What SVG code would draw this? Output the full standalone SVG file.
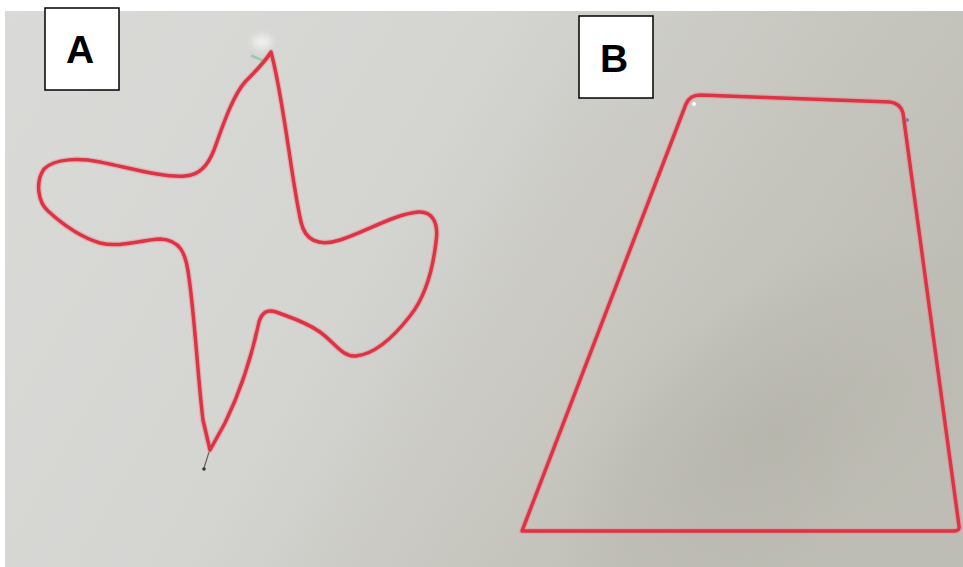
<svg xmlns="http://www.w3.org/2000/svg" width="963" height="567" viewBox="0 0 963 567">
  <defs>
    <linearGradient id="paper" gradientUnits="userSpaceOnUse" x1="0" y1="0" x2="963" y2="567">
      <stop offset="0" stop-color="#dadad8"/>
      <stop offset="0.4" stop-color="#d4d4d1"/>
      <stop offset="0.62" stop-color="#c6c5be"/>
      <stop offset="0.85" stop-color="#b5b3aa"/>
      <stop offset="1" stop-color="#b3b1a8"/>
    </linearGradient>
    <radialGradient id="shade" gradientUnits="userSpaceOnUse" cx="780" cy="430" r="260" gradientTransform="translate(780 430) rotate(-35) scale(1 0.55) translate(-780 -430)">
      <stop offset="0" stop-color="#9e9c92" stop-opacity="0.45"/>
      <stop offset="1" stop-color="#9e9c92" stop-opacity="0"/>
    </radialGradient>
    <linearGradient id="topglow" gradientUnits="userSpaceOnUse" x1="600" y1="11" x2="963" y2="120">
      <stop offset="0" stop-color="#d8d8d4" stop-opacity="0"/>
      <stop offset="1" stop-color="#d2d2cb" stop-opacity="0.35"/>
    </linearGradient>
    <filter id="soft" x="-5%" y="-5%" width="110%" height="110%">
      <feGaussianBlur stdDeviation="0.6"/>
    </filter>
    <filter id="blur3" x="-50%" y="-50%" width="200%" height="200%">
      <feGaussianBlur stdDeviation="3"/>
    </filter>
  </defs>
  <style>
    .glow { fill: none; stroke: #ee7d86; stroke-width: 6; stroke-opacity: 0.4; stroke-linejoin: round; stroke-linecap: round; }
    .thread { fill: none; stroke: #db3444; stroke-width: 3.5; stroke-linejoin: round; stroke-linecap: round; }
    .label-box { fill: #ffffff; stroke: #000000; stroke-width: 1.5; }
    .label { font-family: "Liberation Sans", Arial, sans-serif; font-weight: bold; font-size: 39px; fill: #000000; text-anchor: middle; }
  </style>

  <rect x="0" y="0" width="963" height="567" fill="#ffffff"/>
  <g id="photo">
    <rect x="5" y="11" width="958" height="556" fill="url(#paper)"/>
    <rect x="5" y="11" width="958" height="556" fill="url(#shade)"/>
    <rect x="5" y="11" width="958" height="556" fill="url(#topglow)"/>
    <ellipse cx="262" cy="42" rx="10" ry="7" fill="#f4f4f2" opacity="0.8" filter="url(#blur3)"/>
    <path d="M252 56 L262 60" stroke="#7fc79a" stroke-width="2.5" stroke-linecap="round" opacity="0.7"/>
    <path d="M209 452 L204 468" stroke="#6a5a5a" stroke-width="1.2"/>
    <circle cx="204" cy="469" r="1.8" fill="#3c3030"/>
    <circle cx="694" cy="104" r="2" fill="#ffffff"/>
    <circle cx="907" cy="120" r="2" fill="#7a7ab8"/>
  </g>

  <g id="shape-a" filter="url(#soft)">
    <path class="glow" d="M271 52 C284 100 291 178 301 222 C305 240 318 247 340 240 C365 232 395 214 418 212 C432 211 439 222 436 242 C433 268 426 296 410 316 C396 334 376 354 356 356 C342 357 334 342 320 332 C306 322 292 318 276 312 C268 309 262 312 259 322 C252 355 240 392 225 423 L210 450 L203 420 C198 380 195 320 189 278 C186 252 180 240 160 239 C140 240 120 248 100 243 C80 237 60 222 48 211 C38 202 35 182 44 169 C55 158 80 158 100 162 C130 168 165 178 185 176 C200 175 208 165 214 150 C222 128 232 97 245 82 C255 72 265 62 271 52 Z"/>
    <path class="thread" d="M271 52 C284 100 291 178 301 222 C305 240 318 247 340 240 C365 232 395 214 418 212 C432 211 439 222 436 242 C433 268 426 296 410 316 C396 334 376 354 356 356 C342 357 334 342 320 332 C306 322 292 318 276 312 C268 309 262 312 259 322 C252 355 240 392 225 423 L210 450 L203 420 C198 380 195 320 189 278 C186 252 180 240 160 239 C140 240 120 248 100 243 C80 237 60 222 48 211 C38 202 35 182 44 169 C55 158 80 158 100 162 C130 168 165 178 185 176 C200 175 208 165 214 150 C222 128 232 97 245 82 C255 72 265 62 271 52 Z"/>
  </g>

  <g id="shape-b" filter="url(#soft)">
    <path class="glow" d="M700 95 L890 102 Q900 103 903 113 L959 526 Q960 531 954 531 L522 531 L686 104 Q690 95 700 95 Z"/>
    <path class="thread" d="M700 95 L890 102 Q900 103 903 113 L959 526 Q960 531 954 531 L522 531 L686 104 Q690 95 700 95 Z"/>
  </g>

  <g id="label-a">
    <rect class="label-box" x="45" y="8" width="74" height="82"/>
    <text class="label" x="80" y="63">A</text>
  </g>
  <g id="label-b">
    <rect class="label-box" x="579" y="16" width="74" height="82"/>
    <text class="label" x="614" y="72">B</text>
  </g>
</svg>
